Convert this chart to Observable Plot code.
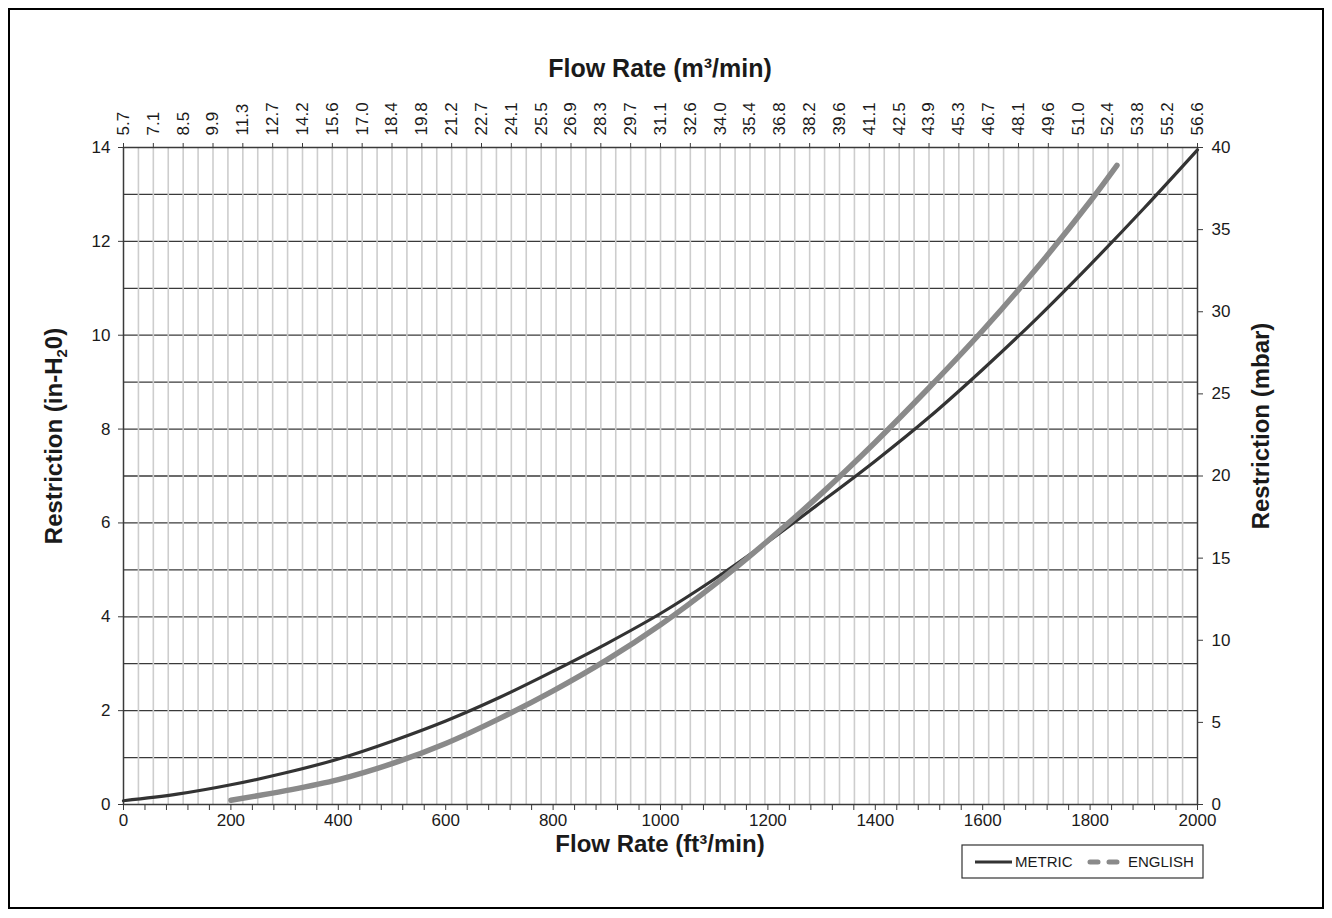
<!DOCTYPE html>
<html>
<head>
<meta charset="utf-8">
<script src="https://cdn.jsdelivr.net/npm/d3@7"></script>
<script src="https://cdn.jsdelivr.net/npm/@observablehq/plot@0.6"></script>
<style>
  html, body { margin: 0; padding: 0; background: #fff; }
  #chart { position: relative; width: 1332px; height: 918px; }
</style>
</head>
<body>
<div id="chart"></div>
<script>
// ---- data ----
const metricFlow  = [0, 100, 200, 300, 400, 500, 600, 700, 800, 900, 1000, 1100, 1200, 1300, 1400, 1500, 1600, 1700, 1800, 1900, 2000];
const metricRestr = [0.08, 0.22, 0.42, 0.67, 0.97, 1.35, 1.78, 2.28, 2.84, 3.43, 4.07, 4.80, 5.60, 6.45, 7.32, 8.25, 9.27, 10.35, 11.50, 12.70, 13.95];

const englishFlow  = [200, 300, 400, 500, 600, 700, 800, 900, 1000, 1100, 1200, 1300, 1400, 1500, 1600, 1700, 1800, 1850];
const englishRestr = [0.09, 0.29, 0.53, 0.87, 1.30, 1.83, 2.42, 3.08, 3.83, 4.68, 5.62, 6.63, 7.72, 8.88, 10.10, 11.42, 12.85, 13.62];

const topLabels = ["5.7","7.1","8.5","9.9","11.3","12.7","14.2","15.6","17.0","18.4","19.8","21.2","22.7","24.1","25.5","26.9","28.3","29.7","31.1","32.6","34.0","35.4","36.8","38.2","39.6","41.1","42.5","43.9","45.3","46.7","48.1","49.6","51.0","52.4","53.8","55.2","56.6"];
const mbarLabels = [0, 5, 10, 15, 20, 25, 30, 35, 40];
const leftTicks = [0, 2, 4, 6, 8, 10, 12, 14];
const bottomLabels = [0, 200, 400, 600, 800, 1000, 1200, 1400, 1600, 1800, 2000];
const seriesNames = ["METRIC", "ENGLISH"];

// ---- derived tables ----
const X_MAX = 2000, Y_MAX = 14, MBAR_MAX = 40;
const metric = metricFlow.map((f, i) => ({flow: f, r: metricRestr[i]}));
const english = englishFlow.map((f, i) => ({flow: f, r: englishRestr[i]}));
const topTicks = topLabels.map((_, i) => i * X_MAX / (topLabels.length - 1));
const topMap = new Map(topTicks.map((t, i) => [t, topLabels[i]]));
const rightTicks = mbarLabels.map(v => v * Y_MAX / MBAR_MAX);
const rightMap = new Map(rightTicks.map((t, i) => [t, String(mbarLabels[i])]));
const vGrid = d3.range(1, 2 * (topLabels.length - 1)).map(i => i * X_MAX / (2 * (topLabels.length - 1)));
const hGrid = d3.range(1, Y_MAX);
const bottomTicks = d3.range(0, X_MAX + 1, 40);
const bottomSet = new Set(bottomLabels);

const FONT = "Liberation Sans, Arial, Helvetica, sans-serif";
const TICK_FS = 17;

const svg = Plot.plot({
  width: 1332,
  height: 918,
  marginLeft: 123,
  marginRight: 135,
  marginTop: 147,
  marginBottom: 114,
  style: {fontFamily: FONT, fontSize: "17px", color: "#1a1a1a", background: "#fff"},
  x: {domain: [0, X_MAX]},
  y: {domain: [0, Y_MAX]},
  marks: [
    Plot.ruleY(hGrid, {stroke: "#3a3a3a", strokeWidth: 1.3}),
    Plot.ruleX(vGrid, {stroke: "#cdcdcd", strokeWidth: 1.6}),
    Plot.frame({stroke: "#3a3a3a", strokeWidth: 1.5}),
    Plot.line(metric, {x: "flow", y: "r", stroke: "#333333", strokeWidth: 3.2, curve: "catmull-rom"}),
    Plot.line(english, {x: "flow", y: "r", stroke: "#8a8a8a", strokeWidth: 5.5, strokeLinecap: "round", curve: "catmull-rom"}),
    Plot.axisY({anchor: "left", ticks: leftTicks, tickSize: 5, tickPadding: 8, label: null, stroke: "#3a3a3a", fontSize: TICK_FS}),
    Plot.axisY({anchor: "right", ticks: rightTicks, tickFormat: d => rightMap.get(d), tickSize: 5, tickPadding: 9, label: null, stroke: "#3a3a3a", fontSize: TICK_FS}),
    Plot.axisX({anchor: "bottom", ticks: bottomTicks, tickFormat: d => bottomSet.has(d) ? String(d) : "", tickSize: 6, tickPadding: 3, label: null, stroke: "#3a3a3a", fontSize: TICK_FS}),
    Plot.axisX({anchor: "top", ticks: topTicks, tickFormat: d => topMap.get(d), tickRotate: -90, tickSize: 5, tickPadding: 7, label: null, stroke: "#3a3a3a", fontSize: TICK_FS})
  ]
});
document.getElementById("chart").appendChild(svg);

const s = d3.select(svg);
// outer border
s.append("rect").attr("x", 9).attr("y", 9).attr("width", 1314).attr("height", 899)
  .attr("fill", "none").attr("stroke", "#000").attr("stroke-width", 2);

function title(x, y, rot, size, parts) {
  const t = s.append("text")
    .attr("transform", `translate(${x},${y}) rotate(${rot})`)
    .attr("text-anchor", "middle")
    .attr("font-family", FONT).attr("font-weight", "bold").attr("font-size", size).attr("fill", "#1a1a1a");
  parts.forEach(p => {
    const ts = t.append("tspan").text(p.t);
    if (p.sub) ts.attr("font-size", 15).attr("dy", 5);
    if (p.back) ts.attr("dy", -5);
  });
}
title(660, 77, 0, 25, [{t: "Flow Rate (m³/min)"}]);
title(660, 852, 0, 24, [{t: "Flow Rate (ft³/min)"}]);
title(62, 436, -90, 24, [{t: "Restriction (in-H"}, {t: "2", sub: true}, {t: "0)", back: true}]);
title(1269, 426, -90, 24, [{t: "Restriction (mbar)"}]);

// legend
const lg = s.append("g");
lg.append("rect").attr("x", 962).attr("y", 845).attr("width", 241).attr("height", 33)
  .attr("fill", "#fff").attr("stroke", "#333").attr("stroke-width", 1.2);
lg.append("line").attr("x1", 975).attr("x2", 1012).attr("y1", 862).attr("y2", 862)
  .attr("stroke", "#333").attr("stroke-width", 3.2);
lg.append("text").attr("x", 1015).attr("y", 867).attr("text-anchor", "start").attr("font-family", FONT).attr("font-size", 15).attr("fill", "#1a1a1a").text(seriesNames[0]);
lg.append("line").attr("x1", 1090).attr("x2", 1127).attr("y1", 862).attr("y2", 862)
  .attr("stroke", "#8a8a8a").attr("stroke-width", 5).attr("stroke-linecap", "round").attr("stroke-dasharray", "8,11");
lg.append("text").attr("x", 1128).attr("y", 867).attr("text-anchor", "start").attr("font-family", FONT).attr("font-size", 15).attr("fill", "#1a1a1a").text(seriesNames[1]);
</script>
</body>
</html>
